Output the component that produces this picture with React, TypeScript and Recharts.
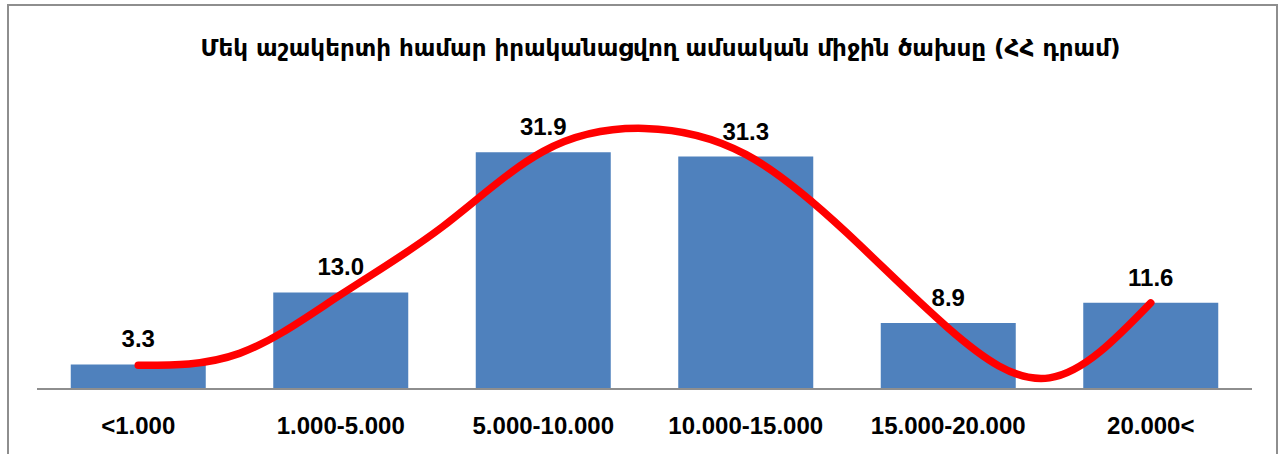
import React from "react";
import {
  ComposedChart,
  Bar,
  Line,
  XAxis,
  YAxis,
  LabelList,
} from "recharts";

const categories = [
  "<1.000",
  "1.000-5.000",
  "5.000-10.000",
  "10.000-15.000",
  "15.000-20.000",
  "20.000<",
];
const shares = [3.3, 13.0, 31.9, 31.3, 8.9, 11.6];

// hand-drawn red trend curve, read at every half category
const curveX = [0, 0.5, 1, 1.5, 2, 2.5, 3, 3.5, 4, 4.5, 5];
const curveY = [3.2, 4.8, 12.7, 21.8, 32.0, 35.1, 31.6, 21.0, 8.2, 1.5, 11.6];

// tick marks sit between the categories
const boundaryTicks = [-0.5, 0.5, 1.5, 2.5, 3.5, 4.5, 5.5];

const title = "Մեկ աշակերտի համար իրականացվող ամսական միջին ծախսը (ՀՀ դրամ)";

const barData = categories.map((cat, i) => ({ cat, value: shares[i] }));
const curveData = curveX.map((x, i) => ({ x, y: curveY[i] }));

const labelFont = "'Liberation Sans', Arial, sans-serif";

export default function App() {
  return (
    <div
      style={{
        position: "fixed",
        left: 0,
        top: 0,
        width: 1285,
        height: 454,
        overflow: "hidden",
        background: "#fff",
      }}
    >
      <div
        style={{
          position: "absolute",
          left: 7,
          top: 4,
          width: 1271,
          height: 470,
          border: "2px solid #8e8e8e",
          boxSizing: "border-box",
        }}
      />
      <div
        style={{
          position: "absolute",
          left: 36,
          top: 34,
          width: 1249,
          textAlign: "center",
          fontFamily: "'DejaVu Sans', sans-serif",
          fontWeight: 700,
          fontSize: 23,
          lineHeight: "28px",
          color: "#000",
          whiteSpace: "nowrap",
        }}
      >
        {title}
      </div>
      <div style={{ position: "absolute", left: 0, top: 0 }}>
        <ComposedChart
          width={1285}
          height={454}
          data={barData}
          margin={{ top: 92, right: 33, bottom: 19, left: 37 }}
          barCategoryGap="16.67%"
        >
          <XAxis
            xAxisId="axis0"
            type="number"
            dataKey="x"
            domain={[-0.5, 5.5]}
            ticks={boundaryTicks}
            tick={false}
            tickSize={8}
            height={1}
            axisLine={{ stroke: "#8e8e8e", strokeWidth: 2 }}
            tickLine={{ stroke: "#8e8e8e", strokeWidth: 2 }}
          />
          <XAxis
            xAxisId="axis1"
            dataKey="cat"
            height={45}
            axisLine={false}
            tickLine={false}
            tickMargin={21}
            interval={0}
            tick={{
              fill: "#000",
              fontSize: 24,
              fontWeight: 700,
              fontFamily: labelFont,
            }}
          />
          <YAxis hide domain={[0, 40]} />
          <Bar
            xAxisId="axis1"
            dataKey="value"
            fill="#4f81bd"
            isAnimationActive={false}
          >
            <LabelList
              dataKey="value"
              position="top"
              offset={17}
              formatter={(v: number) => Number(v).toFixed(1)}
              style={{
                fill: "#000",
                fontSize: 24,
                fontWeight: 700,
                fontFamily: labelFont,
              }}
            />
          </Bar>
          <Line
            xAxisId="axis0"
            data={curveData}
            dataKey="y"
            type="natural"
            stroke="#ff0000"
            strokeWidth={7.5}
            strokeLinecap="round"
            dot={false}
            activeDot={false}
            isAnimationActive={false}
          />
        </ComposedChart>
      </div>
    </div>
  );
}
